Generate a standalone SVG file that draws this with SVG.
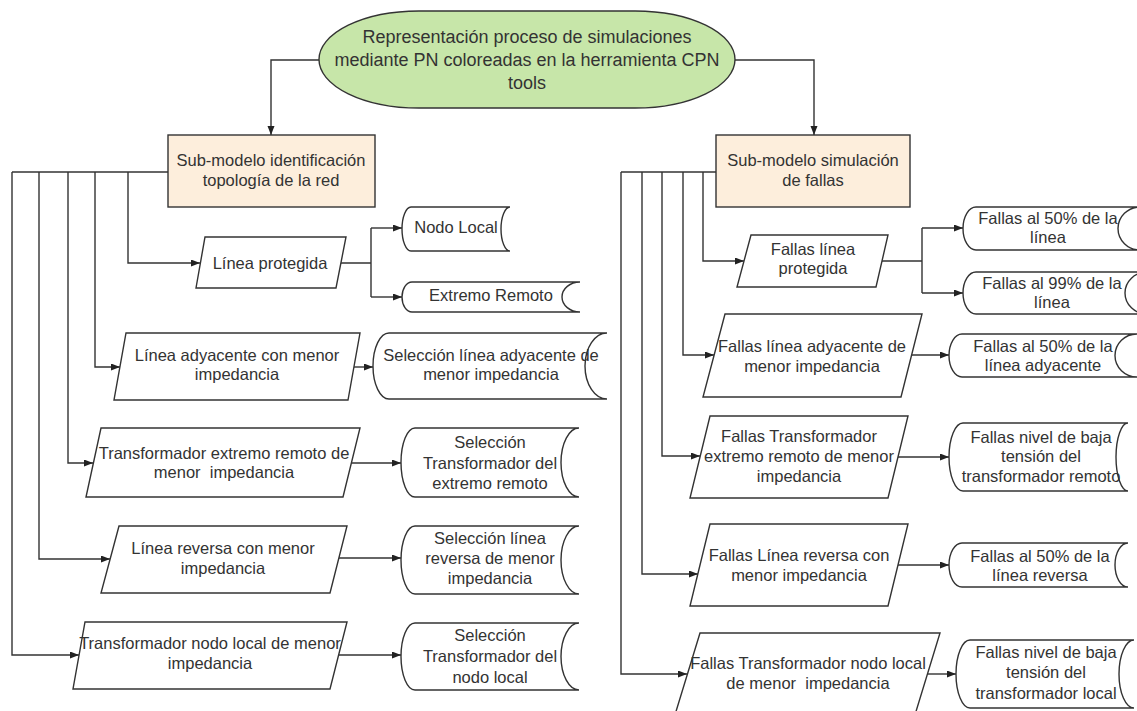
<svg xmlns="http://www.w3.org/2000/svg" width="1137" height="711" viewBox="0 0 1137 711">
<style>
  .sh{fill:#ffffff;stroke:#333333;stroke-width:1.4}
  .box{fill:#fdeedc;stroke:#333333;stroke-width:1.4}
  .term{fill:#c7e6a9;stroke:#333333;stroke-width:1.4}
  .t{font-family:"Liberation Sans",Arial,sans-serif;font-size:16.5px;fill:#333333;text-anchor:middle;white-space:pre}
  .tt{font-family:"Liberation Sans",Arial,sans-serif;font-size:18px;fill:#333333;text-anchor:middle}
  .c{fill:none;stroke:#333333;stroke-width:1.4}
  .a{marker-end:url(#ah)}
</style>
<defs>
  <marker id="ah" markerUnits="userSpaceOnUse" markerWidth="10" markerHeight="8" refX="9" refY="3.5" orient="auto">
    <path d="M0,0 L9,3.5 L0,7 z" fill="#222222"/>
  </marker>
</defs>

<g id="connectors">
  <path class="c a" d="M319 60 H271 V135"/>
  <path class="c a" d="M735 60 H814 V135"/>
  <path class="c" d="M168 172 H12"/>
  <path class="c a" d="M128 172 V263 H200"/>
  <path class="c a" d="M95 172 V367 H120"/>
  <path class="c a" d="M68 172 V463 H93"/>
  <path class="c a" d="M39 172 V559 H110"/>
  <path class="c a" d="M12 172 V655 H79"/>
  <path class="c" d="M341 263 H371 M371 228 V297"/>
  <path class="c a" d="M371 228 H402"/>
  <path class="c a" d="M371 297 H402"/>
  <path class="c a" d="M354 367 H373"/>
  <path class="c a" d="M352 463 H401"/>
  <path class="c a" d="M339 558 H401"/>
  <path class="c a" d="M338 655 H401"/>
  <path class="c" d="M716 172 H621"/>
  <path class="c a" d="M703 172 V261 H744"/>
  <path class="c a" d="M683 172 V355 H714"/>
  <path class="c a" d="M662 172 V456 H700"/>
  <path class="c a" d="M642 172 V574 H698"/>
  <path class="c a" d="M621 172 V674 H687"/>
  <path class="c" d="M882 261 H922 M922 228 V293"/>
  <path class="c a" d="M922 228 H963"/>
  <path class="c a" d="M922 293 H963"/>
  <path class="c a" d="M912 355 H949"/>
  <path class="c a" d="M898 457 H949"/>
  <path class="c a" d="M898 565 H949"/>
  <path class="c a" d="M927 674 H956"/>
</g>

<g id="title">
  <rect class="term" x="319" y="11" width="416" height="97" rx="100" ry="48.5"/>
  <text class="tt" x="527" y="43">Representación proceso de simulaciones</text>
  <text class="tt" x="527" y="66">mediante PN coloreadas en la herramienta CPN</text>
  <text class="tt" x="527" y="89">tools</text>
</g>

<g id="submodelo-topologia">
  <rect class="box" x="168" y="135" width="207" height="72"/>
  <text class="t" x="271" y="166">Sub-modelo identificación</text>
  <text class="t" x="271" y="186">topología de la red</text>
</g>

<g id="submodelo-fallas">
  <rect class="box" x="716" y="135" width="194" height="72"/>
  <text class="t" x="813" y="166">Sub-modelo simulación</text>
  <text class="t" x="813" y="186">de fallas</text>
</g>

<g id="linea-protegida">
  <polygon class="sh" points="205,237 346,237 336,288 196,288"/>
  <text class="t" x="270" y="269">Línea protegida</text>
</g>
<g id="nodo-local">
  <path class="sh" d="M411 207 H510 A9 22 0 0 0 510 251 H411 A9 22 0 0 1 411 207 Z"/>
  <text class="t" x="456" y="233">Nodo Local</text>
</g>
<g id="extremo-remoto">
  <path class="sh" d="M412 282 H580 A18 15 0 0 0 580 312 H412 A10 15 0 0 1 412 282 Z"/>
  <text class="t" x="491" y="301">Extremo Remoto</text>
</g>

<g id="linea-adyacente">
  <polygon class="sh" points="126,333 360,333 348,400 114,400"/>
  <text class="t" x="237" y="361">Línea adyacente con menor</text>
  <text class="t" x="237" y="380">impedancia</text>
</g>
<g id="sel-linea-adyacente">
  <path class="sh" d="M389 333 H607 A22 33 0 0 0 607 399 H389 A16 33 0 0 1 389 333 Z"/>
  <text class="t" x="491" y="361">Selección línea adyacente de</text>
  <text class="t" x="491" y="380">menor impedancia</text>
</g>

<g id="transf-extremo">
  <polygon class="sh" points="101,428 360,428 343,497 86,497"/>
  <text class="t" x="224" y="459">Transformador extremo remoto de</text>
  <text class="t" x="224" y="478">menor  impedancia</text>
</g>
<g id="sel-transf-extremo">
  <path class="sh" d="M415 428 H579 A18 34.5 0 0 0 579 497 H415 A14 34.5 0 0 1 415 428 Z"/>
  <text class="t" x="490" y="448">Selección</text>
  <text class="t" x="490" y="469">Transformador del</text>
  <text class="t" x="490" y="489">extremo remoto</text>
</g>

<g id="linea-reversa">
  <polygon class="sh" points="119,526 347,526 330,593 101,593"/>
  <text class="t" x="223" y="554">Línea reversa con menor</text>
  <text class="t" x="223" y="574">impedancia</text>
</g>
<g id="sel-linea-reversa">
  <path class="sh" d="M415 526 H579 A18 34 0 0 0 579 594 H415 A14 34 0 0 1 415 526 Z"/>
  <text class="t" x="490" y="544">Selección línea</text>
  <text class="t" x="490" y="564">reversa de menor</text>
  <text class="t" x="490" y="584">impedancia</text>
</g>

<g id="transf-nodo-local">
  <polygon class="sh" points="85,622 347,622 330,689 73,689"/>
  <text class="t" x="210" y="649">Transformador nodo local de menor</text>
  <text class="t" x="210" y="669">impedancia</text>
</g>
<g id="sel-transf-nodo-local">
  <path class="sh" d="M415 623 H579 A18 33.5 0 0 0 579 690 H415 A14 33.5 0 0 1 415 623 Z"/>
  <text class="t" x="490" y="641">Selección</text>
  <text class="t" x="490" y="662">Transformador del</text>
  <text class="t" x="490" y="683">nodo local</text>
</g>

<g id="fallas-linea-protegida">
  <polygon class="sh" points="751,235 888,235 876,287 737,287"/>
  <text class="t" x="813" y="255">Fallas línea</text>
  <text class="t" x="813" y="274">protegida</text>
</g>
<g id="fallas-50-linea">
  <path class="sh" d="M976 207 H1140 A22 21.5 0 0 0 1140 250 H976 A13 21.5 0 0 1 976 207 Z"/>
  <text class="t" x="1048" y="224">Fallas al 50% de la</text>
  <text class="t" x="1048" y="243">línea</text>
</g>
<g id="fallas-99-linea">
  <path class="sh" d="M976 272 H1147 A22 21 0 0 0 1147 314 H976 A13 21 0 0 1 976 272 Z"/>
  <text class="t" x="1052" y="289">Fallas al 99% de la</text>
  <text class="t" x="1052" y="308">línea</text>
</g>

<g id="fallas-linea-adyacente">
  <polygon class="sh" points="725,314 922,314 901,397 703,397"/>
  <text class="t" x="812" y="352">Fallas línea adyacente de</text>
  <text class="t" x="812" y="372">menor impedancia</text>
</g>
<g id="fallas-50-adyacente">
  <path class="sh" d="M962 334 H1137 A22 21.5 0 0 0 1137 377 H962 A13 21.5 0 0 1 962 334 Z"/>
  <text class="t" x="1043" y="352">Fallas al 50% de la</text>
  <text class="t" x="1043" y="371">línea adyacente</text>
</g>

<g id="fallas-transf-extremo">
  <polygon class="sh" points="710,416 908,416 888,498 690,498"/>
  <text class="t" x="799" y="442">Fallas Transformador</text>
  <text class="t" x="799" y="462">extremo remoto de menor</text>
  <text class="t" x="799" y="482">impedancia</text>
</g>
<g id="fallas-baja-remoto">
  <path class="sh" d="M963 423 H1128 A12 34 0 0 0 1128 491 H963 A14 34 0 0 1 963 423 Z"/>
  <text class="t" x="1041" y="443">Fallas nivel de baja</text>
  <text class="t" x="1041" y="462">tensión del</text>
  <text class="t" x="1041" y="482">transformador remoto</text>
</g>

<g id="fallas-linea-reversa">
  <polygon class="sh" points="710,524 908,524 888,606 690,606"/>
  <text class="t" x="799" y="561">Fallas Línea reversa con</text>
  <text class="t" x="799" y="581">menor impedancia</text>
</g>
<g id="fallas-50-reversa">
  <path class="sh" d="M962 543 H1128 A13 22 0 0 0 1128 587 H962 A13 22 0 0 1 962 543 Z"/>
  <text class="t" x="1040" y="562">Fallas al 50% de la</text>
  <text class="t" x="1040" y="581">línea reversa</text>
</g>

<g id="fallas-transf-nodo-local">
  <polygon class="sh" points="700,633 940,633 914,718 674,718"/>
  <text class="t" x="808" y="669">Fallas Transformador nodo local</text>
  <text class="t" x="808" y="689">de menor  impedancia</text>
</g>
<g id="fallas-baja-local">
  <path class="sh" d="M970 640 H1134 A15 34 0 0 0 1134 708 H970 A14 34 0 0 1 970 640 Z"/>
  <text class="t" x="1046" y="658">Fallas nivel de baja</text>
  <text class="t" x="1046" y="678">tensión del</text>
  <text class="t" x="1046" y="699">transformador local</text>
</g>
</svg>
